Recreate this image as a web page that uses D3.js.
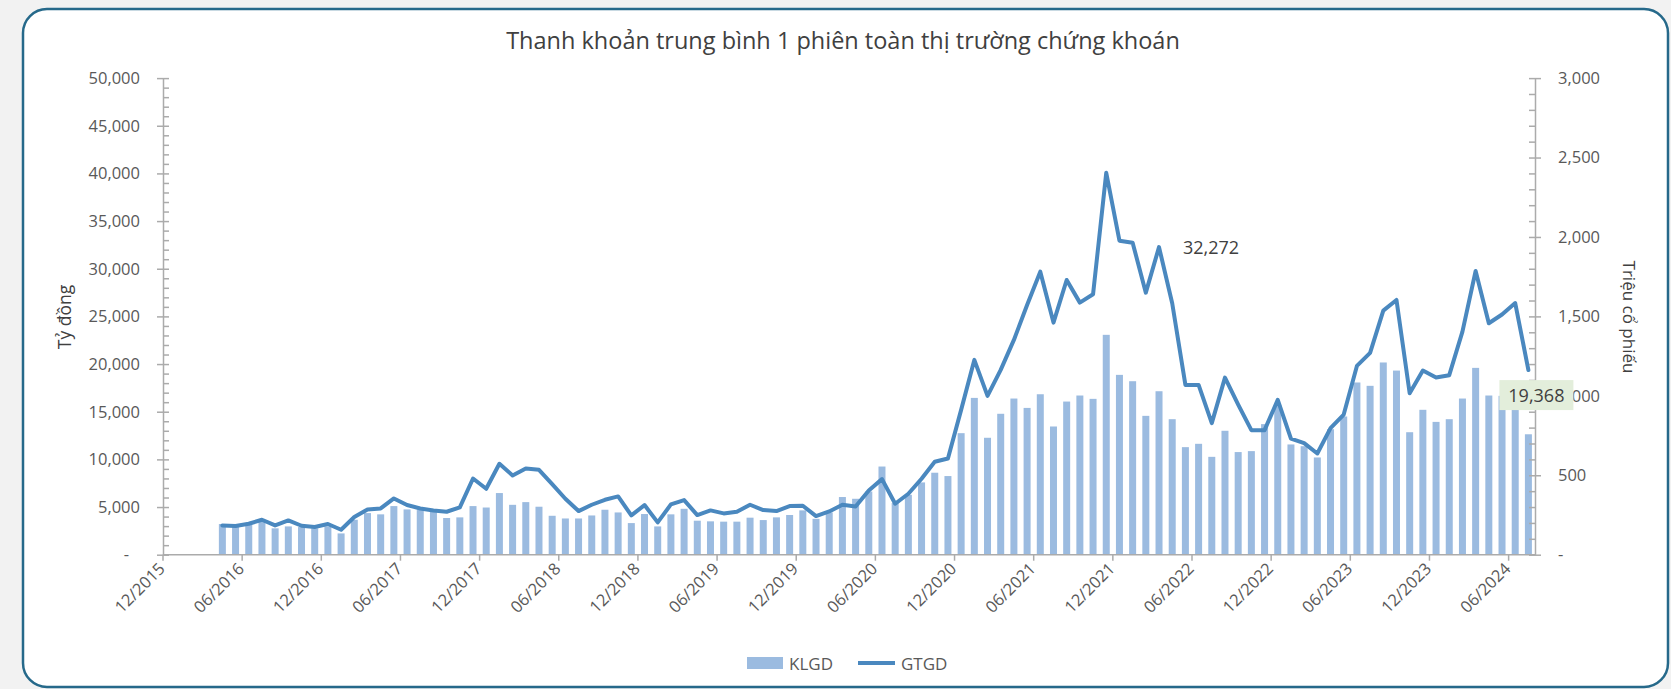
<!DOCTYPE html>
<html><head><meta charset="utf-8">
<script src="https://cdn.jsdelivr.net/npm/d3@7"></script>
<style>
html,body{margin:0;padding:0;background:#f2f2f2;}
svg{display:block;font-family:"Open Sans",sans-serif;}
</style></head><body>
<svg id="c" width="1671" height="689"></svg>
<script>
// ---- DATA ----
const title = "Thanh khoản trung bình 1 phiên toàn thị trường chứng khoán";
const leadMonths = ["12/2015","01/2016","02/2016","03/2016"]; // empty months at axis start
const months = [
 "04/2016","05/2016","06/2016","07/2016","08/2016","09/2016","10/2016","11/2016","12/2016",
 "01/2017","02/2017","03/2017","04/2017","05/2017","06/2017","07/2017","08/2017","09/2017","10/2017","11/2017","12/2017",
 "01/2018","02/2018","03/2018","04/2018","05/2018","06/2018","07/2018","08/2018","09/2018","10/2018","11/2018","12/2018",
 "01/2019","02/2019","03/2019","04/2019","05/2019","06/2019","07/2019","08/2019","09/2019","10/2019","11/2019","12/2019",
 "01/2020","02/2020","03/2020","04/2020","05/2020","06/2020","07/2020","08/2020","09/2020","10/2020","11/2020","12/2020",
 "01/2021","02/2021","03/2021","04/2021","05/2021","06/2021","07/2021","08/2021","09/2021","10/2021","11/2021","12/2021",
 "01/2022","02/2022","03/2022","04/2022","05/2022","06/2022","07/2022","08/2022","09/2022","10/2022","11/2022","12/2022",
 "01/2023","02/2023","03/2023","04/2023","05/2023","06/2023","07/2023","08/2023","09/2023","10/2023","11/2023","12/2023",
 "01/2024","02/2024","03/2024","04/2024","05/2024","06/2024","07/2024"];
// KLGD – Triệu cổ phiếu (right axis)
const klgd = [
 193,178,195,210,166,178,174,166,178,
 134,220,262,254,306,285,281,270,231,235,306,297,
 388,314,331,302,245,228,228,247,283,266,199,256,
 178,254,289,214,210,208,208,233,218,235,250,279,
 226,266,363,352,398,555,325,377,455,516,495,765,
 987,736,887,983,924,1010,807,964,1002,981,1384,1132,
 1092,874,1029,853,677,698,616,780,646,652,822,943,
 694,683,612,790,870,1084,1063,1210,1159,771,912,836,
 853,983,1176,1002,1000,985,758];
// GTGD – Tỷ đồng (left axis)
const gtgd = [
 3070,3008,3249,3668,3070,3595,3039,2903,3217,
 2620,3951,4747,4852,5900,5209,4852,4643,4506,4957,7996,6917,
 9537,8311,9044,8908,7405,5869,4576,5240,5764,6113,4122,5205,
 3388,5275,5729,4157,4646,4332,4506,5240,4681,4576,5100,5135,
 4052,4541,5240,5065,6742,7929,5345,6393,7965,9746,10096,15196,
 20436,16663,19388,22532,26200,29693,24349,28820,26445,27317,40066,32942,
 32729,27489,32272,26378,17816,17816,13802,18581,15751,13068,13068,16244,
 12188,11706,10616,13278,14703,19807,21170,25603,26724,16946,19315,18581,
 18833,23400,29763,24282,25200,26400,19368];
const xTickLabels = ["12/2015","06/2016","12/2016","06/2017","12/2017","06/2018","12/2018","06/2019","12/2019",
 "06/2020","12/2020","06/2021","12/2021","06/2022","12/2022","06/2023","12/2023","06/2024"];
const leftTicks = [0,5000,10000,15000,20000,25000,30000,35000,40000,45000,50000];
const rightTicks = [0,500,1000,1500,2000,2500,3000];
const labeledMonths = ["03/2022","07/2024"];

// ---- LAYOUT ----
const svg = d3.select("#c");
const L = 163, R = 1535, T = 78.1, B = 554.7;
const gray = "#ababab", txt = "#595959";
const barColor = "#9bbbe0", lineColor = "#4a88bf";

svg.append("rect").attr("x",23).attr("y",9).attr("width",1645).attr("height",678)
  .attr("rx",24).attr("fill","#fff").attr("stroke","#26698a").attr("stroke-width",2.5);

const x = d3.scaleBand().domain(leadMonths.concat(months)).range([L,R]).padding(0);
const yL = d3.scaleLinear().domain([0,50000]).range([B,T]);
const yR = d3.scaleLinear().domain([0,3000]).range([B,T]);
const cx = m => x(m) + x.bandwidth()/2;

// title
svg.append("text").attr("x",843).attr("y",40).attr("text-anchor","middle")
  .attr("dominant-baseline","central").attr("fill","#404040").style("font-size","23.5px").text(title);

// bars
svg.append("g").selectAll("rect").data(months).join("rect")
  .attr("x",m=>cx(m)-3.5).attr("width",7)
  .attr("y",(m,i)=>yR(klgd[i])).attr("height",(m,i)=>B-yR(klgd[i]))
  .attr("fill",barColor);

// line
const line = d3.line().x((d,i)=>cx(months[i])).y(d=>yL(d));
svg.append("path").datum(gtgd).attr("d",line).attr("fill","none")
  .attr("stroke",lineColor).attr("stroke-width",4).attr("stroke-linejoin","round").attr("stroke-linecap","round");

// left axis
const fmt = d3.format(",");
const gL = svg.append("g").attr("transform",`translate(${L},0)`)
  .call(d3.axisLeft(yL).tickValues(leftTicks).tickSizeInner(6).tickSizeOuter(0).tickPadding(17)
    .tickFormat(d=>d===0?"-":fmt(d)));
svg.append("g").attr("transform",`translate(${L},0)`)
  .call(d3.axisRight(yL).tickValues(d3.range(0,50001,1000)).tickSize(6).tickFormat(""))
  .call(g=>g.select(".domain").remove());
// right axis
const gR = svg.append("g").attr("transform",`translate(${R},0)`)
  .call(d3.axisRight(yR).tickValues(rightTicks).tickSizeInner(6).tickSizeOuter(0).tickPadding(17)
    .tickFormat(d=>d===0?"-":fmt(d)));
svg.append("g").attr("transform",`translate(${R},0)`)
  .call(d3.axisLeft(yR).tickValues(d3.range(0,3001,100)).tickSize(6).tickFormat(""))
  .call(g=>g.select(".domain").remove());
[gL,gR].forEach(g=>{
  g.selectAll("text").attr("fill",txt).style("font-size","16.5px").style("font-family","Open Sans");
});
gL.selectAll(".tick text").filter(d=>d===0).attr("dx",-11);
svg.selectAll(".domain, .tick line").attr("stroke",gray).attr("stroke-width",1.5);

// bottom axis (ticks at month boundaries)
const gB = svg.append("g");
gB.append("line").attr("x1",L).attr("x2",R).attr("y1",B).attr("y2",B).attr("stroke",gray).attr("stroke-width",1.5);
gB.selectAll("line.t").data(xTickLabels).join("line").attr("class","t")
  .attr("x1",d=>x(d)).attr("x2",d=>x(d)).attr("y1",B).attr("y2",B+6).attr("stroke",gray).attr("stroke-width",1.5);
gB.selectAll("text").data(xTickLabels).join("text")
  .attr("transform",d=>`translate(${x(d)+3},${B+15}) rotate(-45)`)
  .attr("text-anchor","end").attr("fill",txt).style("font-size","16.5px").text(d=>d);

// axis titles
svg.append("text").attr("transform","translate(64,317) rotate(-90)").attr("text-anchor","middle")
  .attr("dominant-baseline","central").attr("fill","#404040").style("font-size","17.5px").text("Tỷ đồng");
svg.append("text").attr("transform","translate(1629,317) rotate(90)").attr("text-anchor","middle")
  .attr("dominant-baseline","central").attr("fill","#404040").style("font-size","17px").text("Triệu cổ phiếu");

// data labels
const i1 = months.indexOf(labeledMonths[0]);
svg.append("text").attr("x",cx(months[i1])+24).attr("y",yL(gtgd[i1])).attr("dominant-baseline","central")
  .attr("fill","#404040").style("font-size","18px").text(fmt(gtgd[i1]));
const i2 = months.indexOf(labeledMonths[1]);
const lx = cx(months[i2])+8, ly = yL(gtgd[i2])+25;
svg.append("rect").attr("x",lx-37).attr("y",ly-15).attr("width",74).attr("height",30).attr("fill","#e3eedb");
svg.append("text").attr("x",lx).attr("y",ly).attr("text-anchor","middle").attr("dominant-baseline","central")
  .attr("fill","#404040").style("font-size","18px").text(fmt(gtgd[i2]));

// legend
const lg = svg.append("g");
lg.append("rect").attr("x",747).attr("y",657).attr("width",36).attr("height",12).attr("fill",barColor);
lg.append("text").attr("x",789).attr("y",663).attr("dominant-baseline","central").attr("fill",txt).style("font-size","17px").text("KLGD");
lg.append("line").attr("x1",858).attr("x2",895).attr("y1",663).attr("y2",663).attr("stroke",lineColor).attr("stroke-width",4);
lg.append("text").attr("x",901).attr("y",663).attr("dominant-baseline","central").attr("fill",txt).style("font-size","17px").text("GTGD");
</script>
</body></html>
